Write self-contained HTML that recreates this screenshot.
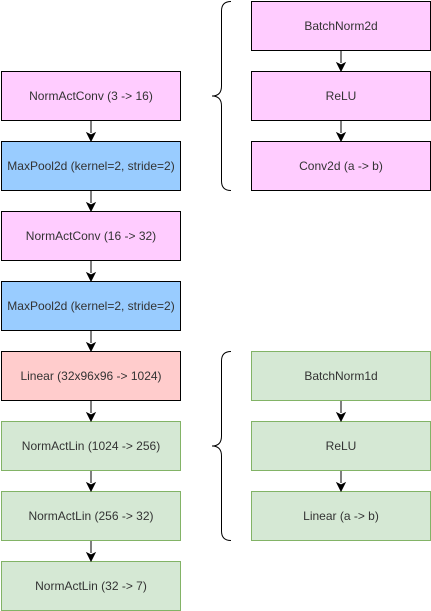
<!DOCTYPE html>
<html><head><meta charset="utf-8"><style>
html,body{margin:0;padding:0;background:#fff;width:431px;height:611px;overflow:hidden}
text{font-family:"Liberation Sans",Arial,sans-serif;font-size:12px;fill:#333;text-anchor:middle;dominant-baseline:central}
</style></head><body>
<svg width="431" height="611" viewBox="0 0 431 611" xmlns="http://www.w3.org/2000/svg">
<defs><marker id="a" markerWidth="8" markerHeight="8" refX="4" refY="7" orient="auto" markerUnits="userSpaceOnUse"><path d="M0,0 L4,2 L8,0 L4,8 Z" fill="#000" transform="rotate(-90 4 4)"/></marker></defs>
<g stroke="#000" stroke-width="1">
<!-- left column -->
<rect x="1.5" y="71.5" width="179" height="49" fill="#FFCCFF"/>
<rect x="1.5" y="141.5" width="179" height="49" fill="#99CCFF"/>
<rect x="1.5" y="211.5" width="179" height="49" fill="#FFCCFF"/>
<rect x="1.5" y="281.5" width="179" height="49" fill="#99CCFF"/>
<rect x="1.5" y="351.5" width="179" height="49" fill="#FFCCCC"/>
<!-- right pink -->
<rect x="251.5" y="1.5" width="179" height="49" fill="#FFCCFF"/>
<rect x="251.5" y="71.5" width="179" height="49" fill="#FFCCFF"/>
<rect x="251.5" y="141.5" width="179" height="49" fill="#FFCCFF"/>
</g>
<g stroke="#82B366" stroke-width="1" fill="#D5E8D4">
<rect x="1.5" y="421.5" width="179" height="49"/>
<rect x="1.5" y="491.5" width="179" height="49"/>
<rect x="1.5" y="561.5" width="179" height="49"/>
<rect x="251.5" y="351.5" width="179" height="49"/>
<rect x="251.5" y="421.5" width="179" height="49"/>
<rect x="251.5" y="491.5" width="179" height="49"/>
</g>
<!-- arrows -->
<g stroke="#000" stroke-width="1" fill="#000">
<line x1="91" y1="121" x2="91" y2="133"/><path d="M87,133 L91,141 L95,133 L91,135 Z"/>
<line x1="91" y1="191" x2="91" y2="203"/><path d="M87,203 L91,211 L95,203 L91,205 Z"/>
<line x1="91" y1="261" x2="91" y2="273"/><path d="M87,273 L91,281 L95,273 L91,275 Z"/>
<line x1="91" y1="331" x2="91" y2="343"/><path d="M87,343 L91,351 L95,343 L91,345 Z"/>
<line x1="91" y1="401" x2="91" y2="413"/><path d="M87,413 L91,421 L95,413 L91,415 Z"/>
<line x1="91" y1="471" x2="91" y2="483"/><path d="M87,483 L91,491 L95,483 L91,485 Z"/>
<line x1="91" y1="541" x2="91" y2="553"/><path d="M87,553 L91,561 L95,553 L91,555 Z"/>
<line x1="341" y1="51" x2="341" y2="63"/><path d="M337,63 L341,71 L345,63 L341,65 Z"/>
<line x1="341" y1="121" x2="341" y2="133"/><path d="M337,133 L341,141 L345,133 L341,135 Z"/>
<line x1="341" y1="401" x2="341" y2="413"/><path d="M337,413 L341,421 L345,413 L341,415 Z"/>
<line x1="341" y1="471" x2="341" y2="483"/><path d="M337,483 L341,491 L345,483 L341,485 Z"/>
</g>
<!-- braces -->
<g stroke="#000" stroke-width="1" fill="none">
<path d="M231,1.5 Q221.5,1.5 221.5,11 L221.5,86 Q221.5,96 212,96 Q221.5,96 221.5,106 L221.5,181 Q221.5,190.5 231,190.5"/>
<path d="M231,351.5 Q221.5,351.5 221.5,361 L221.5,436 Q221.5,446 212,446 Q221.5,446 221.5,456 L221.5,531 Q221.5,540.5 231,540.5"/>
</g>
<text x="91" y="96">NormActConv (3 -&gt; 16)</text>
<text x="91" y="166">MaxPool2d (kernel=2, stride=2)</text>
<text x="91" y="236">NormActConv (16 -&gt; 32)</text>
<text x="91" y="306">MaxPool2d (kernel=2, stride=2)</text>
<text x="91" y="376">Linear (32x96x96 -&gt; 1024)</text>
<text x="91" y="446">NormActLin (1024 -&gt; 256)</text>
<text x="91" y="516">NormActLin (256 -&gt; 32)</text>
<text x="91" y="586">NormActLin (32 -&gt; 7)</text>
<text x="341" y="26">BatchNorm2d</text>
<text x="341" y="96">ReLU</text>
<text x="341" y="166">Conv2d (a -&gt; b)</text>
<text x="341" y="376">BatchNorm1d</text>
<text x="341" y="446">ReLU</text>
<text x="341" y="516">Linear (a -&gt; b)</text>
</svg>
</body></html>
